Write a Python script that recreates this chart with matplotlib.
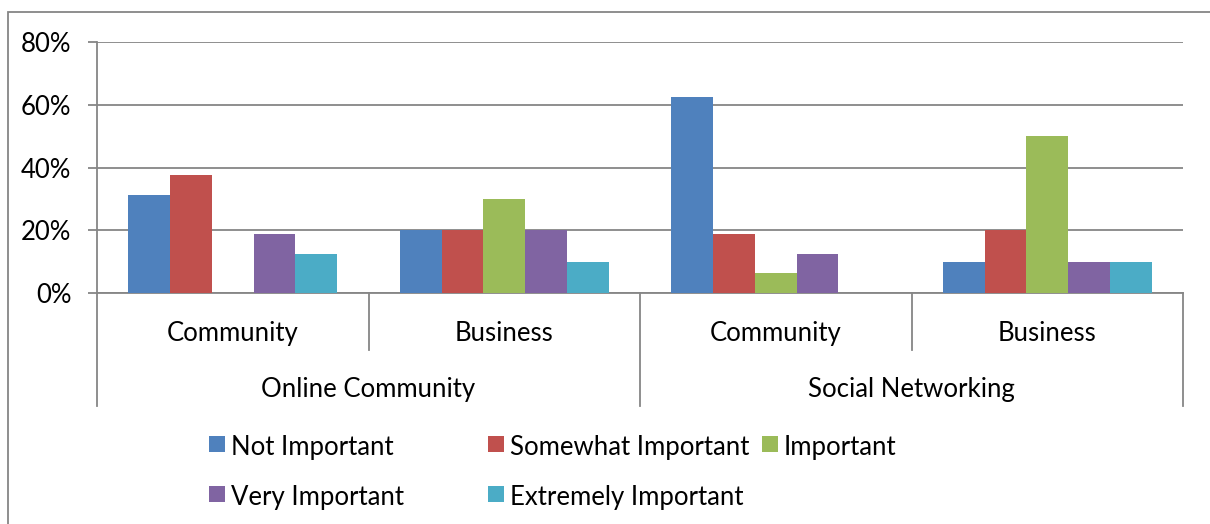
import numpy as np
import matplotlib.pyplot as plt
from matplotlib.patches import Rectangle
from matplotlib.ticker import PercentFormatter

plt.rcParams['font.family'] = ['Lato', 'DejaVu Sans']

# --- Survey data (percent of respondents) ---
groups = ['Online Community', 'Social Networking']
subgroups = ['Community', 'Business', 'Community', 'Business']
series = ['Not Important', 'Somewhat Important', 'Important',
          'Very Important', 'Extremely Important']
not_important = [31.25, 20, 62.5, 10]
somewhat_important = [37.5, 20, 18.75, 20]
important = [0, 30, 6.25, 50]
very_important = [18.75, 20, 12.5, 10]
extremely_important = [12.5, 10, 0, 10]
values = [not_important, somewhat_important, important,
          very_important, extremely_important]
colors = ['#4F81BD', '#C0504D', '#9BBB59', '#8064A2', '#4BACC6']

FS = 18.5
W, H = 1210, 524
fig = plt.figure(figsize=(W / 100, H / 100), dpi=100)

# chart frame (open on the right/bottom edges of the image)
fig.add_artist(Rectangle((8 / W, -0.2), 1.2, (H - 12) / H + 0.2,
                         transform=fig.transFigure, fill=False,
                         edgecolor='#868686', linewidth=1.3))

ax = fig.add_axes([97 / W, (H - 293) / H, (1183 - 97) / W, (293 - 42) / H])

# Excel-style clustered bars: gap width 150%
bar_w = 1 / 6.5
x = np.arange(len(subgroups))
for i, (name, vals, c) in enumerate(zip(series, values, colors)):
    ax.bar(x + (i - 2) * bar_w, vals, width=bar_w, color=c, label=name,
           linewidth=0, zorder=3)

ax.set_xlim(-0.5, len(subgroups) - 0.5)
ax.set_ylim(0, 80)
ax.set_yticks(np.arange(0, 81, 20))
ax.yaxis.set_major_formatter(PercentFormatter(decimals=0))
ax.grid(axis='y', color='#868686', linewidth=1.3, zorder=0)
ax.set_xticks([])
ax.tick_params(axis='y', length=6.5, width=1.3, color='#868686',
               labelsize=FS, pad=12)
for s in ['top', 'right']:
    ax.spines[s].set_visible(False)
for s in ['left', 'bottom']:
    ax.spines[s].set_color('#868686')
    ax.spines[s].set_linewidth(1.3)

# two-level category axis
tr = ax.get_xaxis_transform()
for xi, lab in zip(x, subgroups):
    ax.text(xi, -0.163, lab, transform=tr, ha='center', va='center',
            fontsize=FS)
for gi, lab in enumerate(groups):
    ax.text(2 * gi + 0.5, -0.383, lab, transform=tr, ha='center',
            va='center', fontsize=FS)
for xb in [0.5, 2.5]:
    ax.plot([xb, xb], [0, -0.227], transform=tr, color='#868686',
            linewidth=1.3, clip_on=False)
for xb in [-0.5, 1.5, 3.5]:
    ax.plot([xb, xb], [0, -0.45], transform=tr, color='#868686',
            linewidth=1.3, clip_on=False)

# legend laid out in two rows
legend_pos = [(209, 444), (488, 444), (762, 444), (209, 494), (488, 494)]
for (px, py), name, c in zip(legend_pos, series, colors):
    fig.add_artist(Rectangle((px / W, (H - py - 8) / H), 16 / W, 16 / H,
                             transform=fig.transFigure, facecolor=c,
                             edgecolor='none'))
    fig.text((px + 22) / W, (H - py - 3) / H, name, ha='left', va='center',
             fontsize=FS)

fig.savefig('out.png', dpi=100)
